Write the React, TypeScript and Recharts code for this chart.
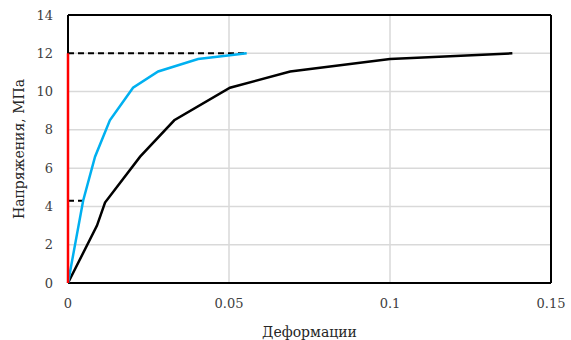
import React from 'react';
import { LineChart, Line, XAxis, YAxis, CartesianGrid, ReferenceLine } from 'recharts';

if (typeof document !== 'undefined') document.body.style.margin = '0';

// black curve
const blackX = [0, 0.009, 0.0115, 0.0224, 0.033, 0.0503, 0.069, 0.1, 0.138];
const blackY = [0, 3.0, 4.2, 6.6, 8.5, 10.2, 11.05, 11.7, 12];
// blue curve
const blueX = [0, 0.0047, 0.0084, 0.013, 0.0202, 0.028, 0.0404, 0.0503, 0.0555];
const blueY = [0, 4.3, 6.6, 8.5, 10.2, 11.05, 11.7, 11.9, 12];
// red vertical
const redX = [0, 0];
const redY = [0, 12];
// dashed guides
const dashTopX = [0, 0.055];
const dashTopY = [12, 12];
const dashLowX = [0, 0.0053];
const dashLowY = [4.3, 4.3];

const xTicks = [0, 0.05, 0.1, 0.15];
const yTicks = [0, 2, 4, 6, 8, 10, 12, 14];

const zip = (xs: number[], ys: number[]) => xs.map((x, i) => ({ x, y: ys[i] }));

const font = 'DejaVu Serif';
const tickStyle = { fontSize: 13, fill: '#404040', fontFamily: font };

export default function App() {
  return (
    <div style={{ width: 571, height: 340, background: '#fff' }}>
      <LineChart width={571} height={340} margin={{ top: 15, right: 20, left: 0, bottom: 0 }}>
        <CartesianGrid stroke="#d9d9d9" strokeWidth={1.5} />
        <XAxis
          type="number"
          dataKey="x"
          domain={[0, 0.15]}
          ticks={xTicks}
          tickFormatter={(v: number) => String(v)}
          tick={tickStyle}
          tickLine={false}
          tickSize={0}
          tickMargin={16}
          height={57}
          axisLine={false}
          label={{ value: 'Деформации', position: 'insideBottom', offset: 3, style: { fontSize: 14, fill: '#262626', fontFamily: font } }}
        />
        <YAxis
          type="number"
          dataKey="y"
          domain={[0, 14]}
          ticks={yTicks}
          tick={tickStyle}
          tickLine={false}
          tickSize={0}
          tickMargin={15}
          width={68}
          axisLine={false}
          label={{ value: 'Напряжения, МПа', angle: -90, position: 'insideLeft', offset: 19, style: { textAnchor: 'middle', fontSize: 14, fill: '#262626', fontFamily: font } }}
        />
        <ReferenceLine y={14} stroke="#000" strokeWidth={2} />
        <ReferenceLine x={0.15} stroke="#000" strokeWidth={2} />
        <ReferenceLine y={0} stroke="#000" strokeWidth={2} />
        <ReferenceLine x={0} stroke="#000" strokeWidth={2} />
        <Line data={zip(dashTopX, dashTopY)} dataKey="y" stroke="#000" strokeWidth={2} strokeDasharray="6 4" dot={false} isAnimationActive={false} />
        <Line data={zip(dashLowX, dashLowY)} dataKey="y" stroke="#000" strokeWidth={2} strokeDasharray="6 4" dot={false} isAnimationActive={false} />
        <Line data={zip(blackX, blackY)} dataKey="y" stroke="#000" strokeWidth={2.5} dot={false} isAnimationActive={false} />
        <Line data={zip(blueX, blueY)} dataKey="y" stroke="#00b0f0" strokeWidth={2.5} dot={false} isAnimationActive={false} />
        <Line data={zip(redX, redY)} dataKey="y" stroke="#ff0000" strokeWidth={2.5} dot={false} isAnimationActive={false} />
      </LineChart>
    </div>
  );
}
